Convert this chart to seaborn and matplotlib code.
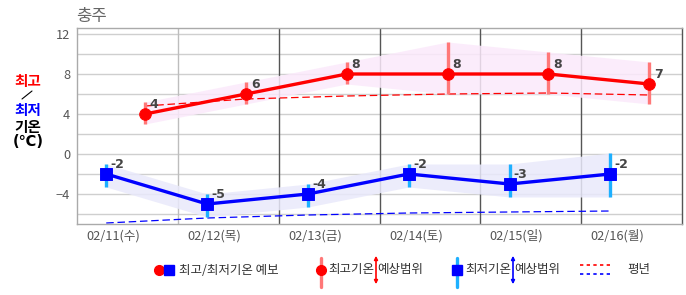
import matplotlib
matplotlib.use("Agg")
import matplotlib.pyplot as plt
from matplotlib.lines import Line2D
import seaborn as sns
import pandas as pd
import numpy as np

# ---------------- data ----------------
dates = ["02/11(수)", "02/12(목)", "02/13(금)", "02/14(토)", "02/15(일)", "02/16(월)"]
tmax = [4, 6, 8, 8, 8, 7]
tmax_low = [3, 5, 7, 6, 6, 5]
tmax_high = [5.2, 7.2, 9.2, 11.2, 10.2, 9.2]
tmax_normal = [4.8, 5.5, 5.8, 6.0, 6.1, 5.9]
tmin = [-2, -5, -4, -2, -3, -2]
tmin_low = [-3.3, -6.3, -5.3, -3.3, -4.3, -4.3]
tmin_high = [-1, -4, -3, -1, -1, 0.1]
tmin_normal = [-6.9, -6.4, -6.1, -5.9, -5.8, -5.7]
yticks = [-4, 0, 4, 8, 12]
title = "충주"

# ---------------- style ----------------
sns.set_theme(style="white")
plt.rcParams['font.family'] = ['Noto Sans CJK KR', 'DejaVu Sans']
plt.rcParams['axes.unicode_minus'] = True

W, H = 686, 295
fig = plt.figure(figsize=(W / 100, H / 100), dpi=100)
ax = fig.add_axes([77 / W, 1 - 224 / H, (682 - 77) / W, (224 - 28) / H])

day = np.arange(len(dates))
x_min = day + 0.29   # morning minimum
x_max = day + 0.675  # afternoon maximum

df_max = pd.DataFrame({"x": x_max, "v": tmax, "lo": tmax_low, "hi": tmax_high, "n": tmax_normal})
df_min = pd.DataFrame({"x": x_min, "v": tmin, "lo": tmin_low, "hi": tmin_high, "n": tmin_normal})

RED = "#ff0000"
BLUE = "#0000ff"
LRED = "#ff7878"
LBLUE = "#1eb0ff"

# bands
ax.fill_between(df_max.x, df_max.lo, df_max.hi, color="#fbe9fb", alpha=0.85, lw=0, zorder=1)
ax.fill_between(df_min.x, df_min.lo, df_min.hi, color="#e9e9fb", alpha=0.85, lw=0, zorder=1)

# normals
sns.lineplot(data=df_max, x="x", y="n", ax=ax, color=RED, lw=0.9, linestyle=(0, (6, 3)), zorder=2)
sns.lineplot(data=df_min, x="x", y="n", ax=ax, color=BLUE, lw=0.9, linestyle=(0, (6, 3)), zorder=2)

# range bars
ax.vlines(df_max.x, df_max.lo, df_max.hi, color=LRED, lw=2.4, zorder=3)
ax.vlines(df_min.x, df_min.lo, df_min.hi, color=LBLUE, lw=2.4, zorder=3)

# forecast lines
sns.lineplot(data=df_max, x="x", y="v", ax=ax, color=RED, lw=2.4, zorder=4)
sns.lineplot(data=df_min, x="x", y="v", ax=ax, color=BLUE, lw=2.4, zorder=4)
sns.scatterplot(data=df_max, x="x", y="v", ax=ax, color=RED, marker="o", s=70, edgecolor=RED, zorder=5)
sns.scatterplot(data=df_min, x="x", y="v", ax=ax, color=BLUE, marker="s", s=70, edgecolor=BLUE, zorder=5)

for xx, vv in zip(df_max.x, df_max.v):
    ax.annotate(f"{vv}", (xx, vv), xytext=(3.5, 6.5), textcoords="offset points",
                fontsize=9, fontweight="bold", color="#444444", va="center", ha="left",
                family="DejaVu Sans", zorder=6)
for xx, vv in zip(df_min.x, df_min.v):
    ax.annotate(f"{vv}", (xx, vv), xytext=(3, 6.5), textcoords="offset points",
                fontsize=9, fontweight="bold", color="#444444", va="center", ha="left",
                family="DejaVu Sans", zorder=6)

# axes
ax.set_xlim(0, 6)
ax.set_ylim(-7, 12.6)
ax.set_xlabel("")
ax.set_ylabel("")
ax.set_yticks(yticks)
ax.set_yticklabels([("−" + str(-t)) if t < 0 else str(t) for t in yticks])
ax.set_yticks([-6, -2, 2, 6, 10], minor=True)
ax.set_xticks(day + 0.36)
ax.set_xticklabels(dates)
ax.tick_params(axis="both", which="both", length=0, labelsize=9.2, labelcolor="#555555")
ax.tick_params(axis="y", pad=5)
ax.tick_params(axis="x", pad=4)
ax.grid(False)
for yv in [-6, -4, -2, 0, 2, 4, 6, 8, 10, 12]:
    ax.axhline(yv, color="#cfcfcf", lw=1.0, zorder=0)
ax.axvline(1, color="#bdbdbd", lw=1.0, zorder=0)
for xv in [2, 3, 4, 5]:
    ax.axvline(xv, color="#555555", lw=1.0, zorder=0)
for s in ["left", "top", "bottom"]:
    ax.spines[s].set_color("#aaaaaa")
    ax.spines[s].set_linewidth(1.0)
ax.spines["right"].set_color("#555555")
ax.spines["right"].set_linewidth(1.0)

# title
def fx(px):
    return px / W
def fy(py):
    return 1 - py / H

fig.text(fx(76), fy(16), title, fontsize=12, color="#666666", ha="left", va="center")

# y label
YL = dict(fontsize=10.5, fontweight="bold", ha="center", va="center")
fig.text(fx(28), fy(81), "최고", color=RED, **YL)
fig.add_artist(Line2D([fx(22), fx(32)], [fy(99), fy(91)], color="black", lw=0.8))
fig.text(fx(28), fy(110), "최저", color=BLUE, **YL)
fig.text(fx(28), fy(127), "기온", color="black", **YL)
fig.text(fx(28), fy(142), "(℃)", color="black", family=["DejaVu Sans", "Noto Sans CJK KR"], **YL)

# legend
ly = 270
LT = dict(fontsize=9, color="#333333", va="center", ha="left")
fig.add_artist(Line2D([fx(159)], [fy(ly)], marker="o", color=RED, ms=7, lw=0))
fig.add_artist(Line2D([fx(169)], [fy(ly)], marker="s", color=BLUE, ms=6.5, lw=0))
fig.text(fx(179), fy(ly), "최고/최저기온 예보", **LT)

fig.add_artist(Line2D([fx(321), fx(321)], [fy(258), fy(287)], color=LRED, lw=2.4))
fig.add_artist(Line2D([fx(321)], [fy(ly)], marker="o", color=RED, ms=7, lw=0))
fig.text(fx(328), fy(ly), "최고기온", **LT)
fig.add_artist(matplotlib.patches.FancyArrowPatch((fx(376), fy(287)), (fx(376), fy(253)),
               transform=fig.transFigure, arrowstyle="<|-|>", mutation_scale=5, color=RED, lw=1.2))
fig.text(fx(377), fy(ly), "예상범위", **LT)

fig.add_artist(Line2D([fx(457), fx(457)], [fy(258), fy(287)], color=LBLUE, lw=2.4))
fig.add_artist(Line2D([fx(457)], [fy(ly)], marker="s", color=BLUE, ms=6.5, lw=0))
fig.text(fx(465), fy(ly), "최저기온", **LT)
fig.add_artist(matplotlib.patches.FancyArrowPatch((fx(513), fy(287)), (fx(513), fy(253)),
               transform=fig.transFigure, arrowstyle="<|-|>", mutation_scale=5, color=BLUE, lw=1.2))
fig.text(fx(514), fy(ly), "예상범위", **LT)

fig.add_artist(Line2D([fx(580), fx(612)], [fy(265), fy(265)], color=RED, lw=1.2, linestyle=(0, (2, 2))))
fig.add_artist(Line2D([fx(580), fx(612)], [fy(274), fy(274)], color=BLUE, lw=1.2, linestyle=(0, (2, 2))))
fig.text(fx(627), fy(ly), "평년", **LT)

fig.savefig("out.png", dpi=100)
